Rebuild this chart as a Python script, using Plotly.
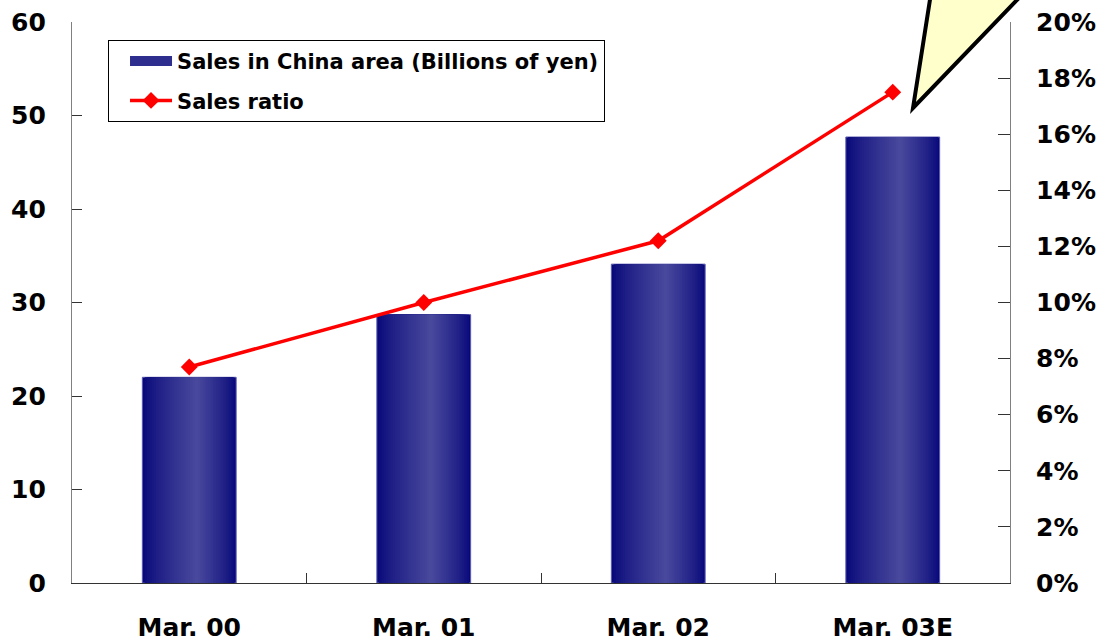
import plotly.graph_objects as go

# Fiscal periods and figures
periods = ["Mar. 00", "Mar. 01", "Mar. 02", "Mar. 03E"]
sales_china = [22.0, 28.7, 34.1, 47.7]        # billions of yen
sales_ratio = [7.7, 10.0, 12.2, 17.5]         # percent of total sales

left_ticks = [0, 10, 20, 30, 40, 50, 60]
right_ticks = [0, 2, 4, 6, 8, 10, 12, 14, 16, 18, 20]
right_labels = ["%d%%" % v for v in right_ticks]

SALES_NAME = "Sales in China area (Billions of yen)"
RATIO_NAME = "Sales ratio"

FONT = dict(family="DejaVu Sans", weight="bold", color="black")

fig = go.Figure()

# Bars shaded with a horizontal gradient: nested rectangles, dark navy at the
# edges fading to a lighter blue just right of centre.
BAR_W = 0.4
STEPS = 24
peak = 0.58                       # relative position of the lightest band
dark = (8, 8, 122)
light = (74, 74, 158)
left0, right0 = -BAR_W / 2, BAR_W / 2
centre = left0 + peak * BAR_W
for k in range(STEPS):
    t = k / STEPS
    lft = left0 + t * (centre - left0)
    rgt = right0 - t * (right0 - centre)
    tt = (t ** 0.8)
    col = tuple(round(d + (l - d) * tt) for d, l in zip(dark, light))
    fig.add_trace(go.Bar(
        x=periods, y=sales_china,
        width=rgt - lft, offset=lft,
        marker=dict(color="rgb(%d,%d,%d)" % col,
                    line=dict(width=1 if k == 0 else 0, color="#5a5ab0")),
        name=SALES_NAME, showlegend=False, legendgroup="sales",
        hoverinfo="skip" if k else None,
    ))

# Legend key for the bars: a wide navy swatch
fig.add_trace(go.Scatter(
    x=[None], y=[None], mode="lines",
    line=dict(color="#2e2e8e", width=15),
    name=SALES_NAME, legendgroup="sales", showlegend=True,
))

fig.add_trace(go.Scatter(
    x=periods, y=sales_ratio, yaxis="y2",
    mode="lines+markers",
    line=dict(color="#ff0000", width=3.5),
    marker=dict(symbol="diamond", size=13, color="#ff0000"),
    name=RATIO_NAME, legendgroup="ratio",
))

# Pointer callout in the upper-right corner
tip = (0.8966, 0.8467)
fig.add_shape(
    type="path", xref="paper", yref="paper",
    path="M 0.918,1.075 L %f,%f L 1.028,1.075 Z" % tip,
    fillcolor="#ffffcc", line=dict(color="black", width=4), layer="above",
)

fig.update_layout(
    width=1109, height=643,
    margin=dict(l=72, r=99, t=22, b=60),
    paper_bgcolor="white", plot_bgcolor="white",
    barmode="overlay",
    font=FONT,
    showlegend=True,
    legend=dict(
        x=0.0384, y=0.968, xanchor="left", yanchor="top",
        bgcolor="white", bordercolor="black", borderwidth=1,
        font=dict(size=21, **FONT),
        itemwidth=42, indentation=16,
        tracegroupgap=9, traceorder="grouped",
    ),
    xaxis=dict(
        type="category", categoryorder="array", categoryarray=periods,
        range=[-0.5, 3.5], automargin=False,
        showline=True, linecolor="#333333", linewidth=1.2,
        ticks="inside", ticklen=10, tickcolor="#333333", tickson="boundaries",
        tickfont=dict(size=25, **FONT),
        ticklabelstandoff=22,
        showgrid=False, zeroline=False,
    ),
    yaxis=dict(
        range=[0, 60], tickvals=left_ticks, automargin=False,
        showline=True, linecolor="#808080", linewidth=1.2,
        ticks="inside", ticklen=10, tickcolor="#333333",
        tickfont=dict(size=25, **FONT),
        ticklabelstandoff=20,
        showgrid=False, zeroline=False,
    ),
    yaxis2=dict(
        range=[0, 20], tickvals=right_ticks, ticktext=right_labels,
        overlaying="y", side="right", automargin=False,
        showline=True, linecolor="#808080", linewidth=1.2,
        ticks="inside", ticklen=12, tickcolor="#333333",
        tickfont=dict(size=25, **FONT),
        ticklabelstandoff=20,
        showgrid=False, zeroline=False,
    ),
)

fig.write_html("out.html")
